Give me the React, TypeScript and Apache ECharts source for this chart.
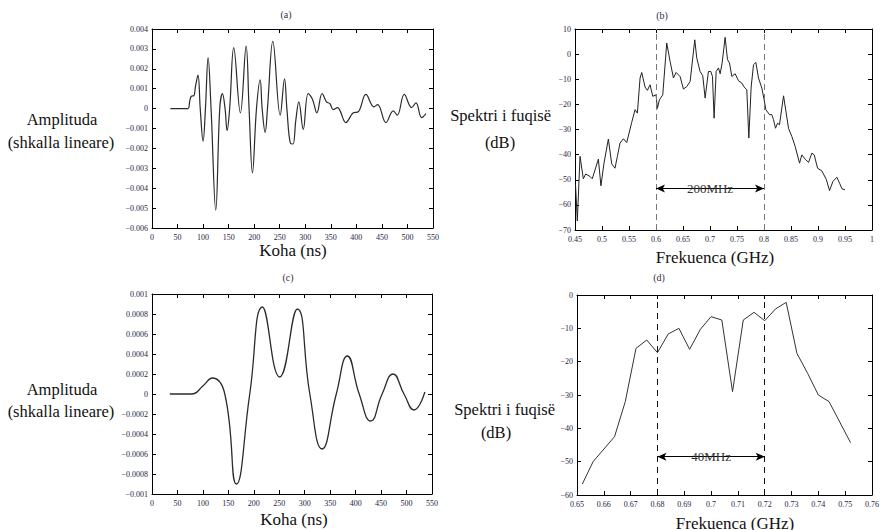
import React, { useEffect, useRef } from "react";
import * as echarts from "echarts";

// (a) time signal, full bandwidth
const timeA: number[] = [36, 70, 74, 77, 82, 85, 90, 94.4, 100, 104.6, 109.8, 115.6, 124.8, 132.6, 137.9, 143, 147, 152, 160, 173, 184.2, 190, 196.6, 204.5, 211.7, 215.6, 221.5, 226, 236.5, 250.9, 259.4, 264, 271, 276, 281.5, 287.4, 296, 305.7, 314.2, 322.7, 333, 341.6, 348.2, 354.7, 363.2, 368, 379.5, 393.9, 403.7, 418.7, 434.4, 441.6, 457.9, 472.2, 480, 493.8, 508.2, 516.6, 527.8, 536.2];
const ampA: number[] = [0, 0, 0.0004, 0.00062, 0.00065, 0.0011, 0.00168, 0, -0.00164, 0, 0.00256, 0, -0.0051, 0, 0.00075, 0, -0.0011, 0, 0.00306, -0.00022, 0.00314, 0, -0.00323, 0, 0.00145, 0, -0.0012, 0, 0.00338, -0.00033, 0.0015, 0, -0.00175, -0.00178, -0.00058, 0.00034, -0.00105, 0.00076, 0.00046, -0.00021, 0.00076, 0.00034, 0.00025, -0.00005, 0.00005, -0.0001, -0.0007, -0.00021, -0.00016, 0.00071, 0.00009, 0.0002, -0.0007, -0.00011, -0.00033, 0.00071, 0.00005, 0.00029, -0.00045, -0.00025];

// (b) spectrum, full bandwidth
const freqB: number[] = [0.451, 0.4543, 0.4593, 0.4654, 0.4698, 0.4778, 0.482, 0.4933, 0.498, 0.5037, 0.5118, 0.518, 0.5241, 0.5285, 0.5334, 0.5396, 0.5458, 0.555, 0.5612, 0.5655, 0.5705, 0.5736, 0.5797, 0.5841, 0.589, 0.594, 0.6001, 0.6026, 0.6063, 0.6125, 0.6199, 0.6261, 0.6323, 0.6372, 0.6446, 0.6508, 0.657, 0.6632, 0.6718, 0.6755, 0.6817, 0.6866, 0.691, 0.6971, 0.7015, 0.7046, 0.7076, 0.7114, 0.7157, 0.7188, 0.7225, 0.728, 0.7324, 0.7361, 0.7404, 0.7466, 0.7527, 0.7589, 0.7633, 0.7682, 0.7719, 0.7762, 0.7806, 0.7849, 0.7898, 0.796, 0.8003, 0.8034, 0.8102, 0.8145, 0.8176, 0.8213, 0.825, 0.8287, 0.8362, 0.8454, 0.8516, 0.8578, 0.8658, 0.8701, 0.8763, 0.8825, 0.8887, 0.893, 0.8992, 0.9072, 0.9152, 0.9214, 0.9276, 0.935, 0.94, 0.9443, 0.95];
const dbB: number[] = [-52, -66.4, -40.7, -49.6, -47.7, -48.7, -49.6, -41.8, -52.4, -43.4, -33.8, -43.7, -45.4, -40.7, -35.4, -33.7, -35.2, -27.2, -22.1, -23.5, -9.5, -7.3, -13.1, -14.4, -12.2, -16.8, -16.2, -21.6, -18.2, -16.2, 4.4, -2.9, -9.5, -7.3, -8.9, -13.9, -12.9, -10.9, 5.7, -1.6, -6.9, -8.6, -17.5, -6.9, -6.9, -8.9, -25.5, -6.9, -5.5, -7.8, -3.5, 6.7, -2.2, -3.5, -8.9, -7.8, -10.6, -11.5, -13.1, -14.2, -33.4, -13.1, -4.2, -3.3, -9.5, -13.5, -18.2, -22.1, -24.1, -24.1, -26.1, -29.5, -27.5, -28.1, -16.6, -29.5, -32.8, -36.8, -43.4, -40.1, -41.8, -43.1, -39.4, -40.1, -45.4, -46.5, -49.8, -54.3, -50.7, -49, -51.4, -53.6, -54];
const bandB: number[] = [0.6, 0.8];
const arrowLevelB = -53.5;
const bandLabelB = "200MHz";

// (c) time signal, narrow bandwidth
const timeC: number[] = [35, 78, 100, 118.5, 143, 165.7, 192, 216.8, 250.8, 285.5, 310, 334, 362, 383.8, 407, 429.6, 452, 473.5, 495, 514.7, 536];
const ampC: number[] = [0, 0, 0.00008, 0.00016, 0, -0.0009, 0, 0.00087, 0.00017, 0.00085, 0, -0.00055, 0, 0.00038, 0, -0.00027, 0, 0.0002, 0, -0.00016, 0.00002];

// (d) spectrum, narrow bandwidth
const freqD: number[] = [0.652, 0.656, 0.664, 0.668, 0.672, 0.676, 0.68, 0.684, 0.688, 0.692, 0.696, 0.7, 0.704, 0.708, 0.712, 0.716, 0.72, 0.724, 0.728, 0.732, 0.736, 0.74, 0.744, 0.752];
const dbD: number[] = [-56.7, -50, -42.5, -32, -16, -13.5, -17.3, -11.7, -10, -16.3, -10.3, -6.5, -7.5, -29, -7.5, -5.2, -7.7, -4.2, -2.2, -17.5, -23.5, -30, -32, -44.3];
const bandD: number[] = [0.68, 0.72];
const arrowLevelD = -48.5;
const bandLabelD = "40MHz";

const SERIF = "Liberation Serif";
const TICK_COLOR = "#1e2545";

const fmt = (v: number) => {
  if (Math.abs(v) < 1e-12) return "0";
  return parseFloat(v.toFixed(6)).toString().replace("-", "\u2212");
};

const zip = (xs: number[], ys: number[]) => xs.map((x, i) => [x, ys[i]]);

function axisPair(kind: "x" | "y", grid: number, min: number, max: number, interval: number) {
  const common = {
    type: "value",
    gridIndex: grid,
    min,
    max,
    interval,
    splitLine: { show: false },
    axisLine: { show: true, onZero: false, lineStyle: { color: "#000", width: 1 } },
    axisTick: { show: true, inside: true, length: 4, lineStyle: { color: "#000" } },
  };
  const main = {
    ...common,
    position: kind === "x" ? "bottom" : "left",
    axisLabel: {
      show: true,
      formatter: fmt,
      fontFamily: SERIF,
      fontSize: 8,
      color: TICK_COLOR,
      margin: kind === "x" ? 5 : 4,
    },
  };
  const mirror = {
    ...common,
    position: kind === "x" ? "top" : "right",
    axisLabel: { show: false },
  };
  return [main, mirror];
}

function text(t: string, x: number, y: number, size: number, align = "center", fill = "#111") {
  return {
    type: "text",
    style: {
      text: t,
      x,
      y,
      fontSize: size,
      fontFamily: SERIF,
      fill,
      textAlign: align,
      align,
      textVerticalAlign: "middle",
      verticalAlign: "middle",
    },
  };
}

export default function App() {
  const ref = useRef<HTMLDivElement>(null);

  useEffect(() => {
    if (!ref.current) return;
    const chart = echarts.init(ref.current, undefined, { renderer: "svg" });

    const grids = [
      { left: 152, top: 29, width: 281, height: 199 },
      { left: 575, top: 29, width: 297, height: 201 },
      { left: 152, top: 294, width: 280, height: 200 },
      { left: 577, top: 295, width: 297, height: 200 },
    ];

    const xa = axisPair("x", 0, 0, 550, 50);
    const xb = axisPair("x", 1, 0.45, 1, 0.05);
    const xc = axisPair("x", 2, 0, 550, 50);
    const xd = axisPair("x", 3, 0.65, 0.76, 0.01);
    const ya = axisPair("y", 0, -0.006, 0.004, 0.001);
    const yb = axisPair("y", 1, -70, 10, 10);
    const yc = axisPair("y", 2, -0.001, 0.001, 0.0002);
    const yd = axisPair("y", 3, -60, 0, 10);

    const xAxis = [xa[0], xb[0], xc[0], xd[0], xa[1], xb[1], xc[1], xd[1]];
    const yAxis = [ya[0], yb[0], yc[0], yd[0], ya[1], yb[1], yc[1], yd[1]];

    const bandLines = (band: number[], color: string, dash: number[]) => ({
      silent: true,
      symbol: "none",
      label: { show: false },
      lineStyle: { color, type: dash, width: 1 },
      emphasis: { disabled: true },
      data: band.map((b) => ({ xAxis: b })),
    });

    const arrow = (band: number[], level: number, label: string, xi: number) => ({
      type: "line",
      xAxisIndex: xi,
      yAxisIndex: xi,
      data: [],
      silent: true,
      markLine: {
        silent: true,
        symbol: ["arrow", "arrow"],
        symbolSize: [6, 9],
        lineStyle: { color: "#000", type: "solid", width: 1 },
        emphasis: { disabled: true },
        label: {
          show: true,
          position: "insideMiddle",
          formatter: label,
          fontFamily: SERIF,
          fontSize: 13,
          color: "#333",
        },
        data: [[{ coord: [band[0], level] }, { coord: [band[1], level] }]],
      },
    });

    chart.setOption({
      animation: false,
      backgroundColor: "#fff",
      grid: grids,
      xAxis,
      yAxis,
      series: [
        {
          type: "line",
          xAxisIndex: 0,
          yAxisIndex: 0,
          data: zip(timeA, ampA),
          symbol: "none",
          smooth: 0.4,
          lineStyle: { color: "#2b2b2b", width: 1.2 },
        },
        {
          type: "line",
          xAxisIndex: 1,
          yAxisIndex: 1,
          data: zip(freqB, dbB),
          symbol: "none",
          lineStyle: { color: "#222", width: 1 },
          markLine: bandLines(bandB, "#777", [6, 4]),
        },
        arrow(bandB, arrowLevelB, bandLabelB, 1),
        {
          type: "line",
          xAxisIndex: 2,
          yAxisIndex: 2,
          data: zip(timeC, ampC),
          symbol: "none",
          smooth: 0.5,
          lineStyle: { color: "#2b2b2b", width: 1.3 },
        },
        {
          type: "line",
          xAxisIndex: 3,
          yAxisIndex: 3,
          data: zip(freqD, dbD),
          symbol: "none",
          lineStyle: { color: "#333", width: 1 },
          markLine: bandLines(bandD, "#111", [6, 5]),
        },
        arrow(bandD, arrowLevelD, bandLabelD, 3),
      ],
      graphic: [
        text("(a)", 286, 14, 10, "center", "#3a2a4a"),
        text("(b)", 662, 15, 10, "center", "#3a2a4a"),
        text("(c)", 288, 277, 10, "center", "#3a2a4a"),
        text("(d)", 659, 277, 10, "center", "#3a2a4a"),
        text("Koha (ns)", 293, 250, 17),
        text("Frekuenca (GHz)", 715, 257, 17),
        text("Koha (ns)", 294, 519, 17),
        text("Frekuenca (GHz)", 735, 523, 17),
        text("Amplituda", 62, 119, 16.5),
        text("(shkalla lineare)", 61, 142, 16.5),
        text("Amplituda", 62, 389, 16.5),
        text("(shkalla lineare)", 61, 411, 16.5),
        text("Spektri i fuqisë", 551, 115, 16.5, "right"),
        text("(dB)", 500, 142, 16.5),
        text("Spektri i fuqisë", 555, 409, 16.5, "right"),
        text("(dB)", 496, 432, 16.5),
      ],
    });

    return () => chart.dispose();
  }, []);

  return (
    <div
      ref={ref}
      style={{ position: "fixed", left: 0, top: 0, width: 882, height: 530, background: "#fff" }}
    />
  );
}
